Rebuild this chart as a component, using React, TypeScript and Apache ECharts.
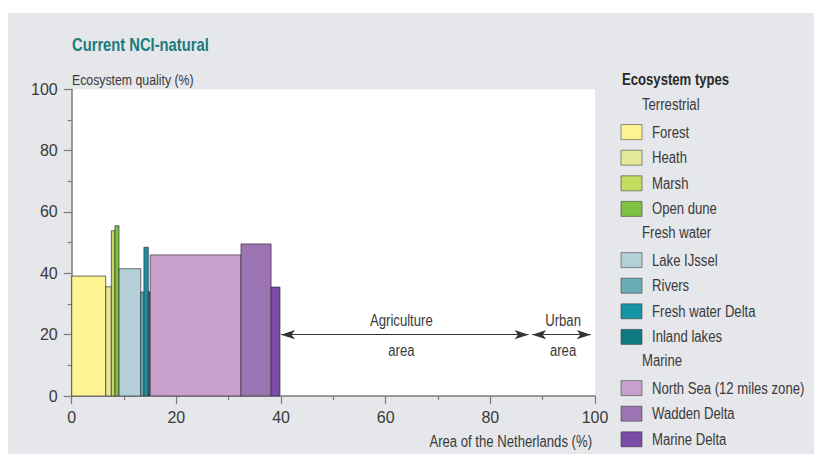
import React, { useEffect, useRef } from "react";
import * as echarts from "echarts";

// ---- Data ----
const ecosystemTypes = [
  "Forest",
  "Heath",
  "Marsh",
  "Open dune",
  "Lake IJssel",
  "Rivers",
  "Fresh water Delta",
  "Inland lakes",
  "North Sea (12 miles zone)",
  "Wadden Delta",
  "Marine Delta",
];
const groupNames = ["Terrestrial", "Fresh water", "Marine"];
const typeGroup = [0, 0, 0, 0, 1, 1, 1, 1, 2, 2, 2];
// share of the area of the Netherlands (%) — bar widths
const areaShare = [6.5, 1.07, 0.7, 0.77, 4.16, 0.6, 0.84, 0.36, 17.35, 5.75, 1.7];
// ecosystem quality (%) — bar heights
const quality = [39.1, 35.6, 53.9, 55.5, 41.5, 33.9, 48.5, 34.0, 46.0, 49.6, 35.5];
const typeColors = [
  "#fdf391",
  "#e3ea97",
  "#c3dc60",
  "#7fc243",
  "#b3d0d9",
  "#6aabb8",
  "#1693a4",
  "#0f7b82",
  "#c8a0cc",
  "#9c73b3",
  "#7a4ba7",
];

// land-use annotations
const landUse = ["Agriculture", "Urban"];
const landUseStart = [40, 88.0];
const landUseEnd = [87.3, 99.2];
const landUseLevel = 20;
const landUseLabelX = [63, 93.9];
const landUseTopY = 24.5;
const landUseBottomY = 14.7;
const landUseSub = "area";

const xTickValues = [0, 20, 40, 60, 80, 100];
const yTickValues = [0, 20, 40, 60, 80, 100];

const TITLE = "Current NCI-natural";
const Y_NAME = "Ecosystem quality (%)";
const X_NAME = "Area of the Netherlands (%)";
const LEGEND_TITLE = "Ecosystem types";

const FONT = "'Liberation Sans', Arial, Helvetica, sans-serif";
const NARROW = 0.82;
const TEXT = "#3a3a3a";

export default function App() {
  const ref = useRef<HTMLDivElement>(null);

  useEffect(() => {
    if (!ref.current) return;
    const chart = echarts.init(ref.current, undefined, { renderer: "svg" });

    // bar table built from the arrays
    let acc = 0;
    const barData = areaShare.map((w, i) => {
      const start = acc;
      acc += w;
      return { value: [start, acc, quality[i], i], name: ecosystemTypes[i] };
    });

    const narrowText = (x: number, y: number, text: string, font: string, fill: string, align = "left") => ({
      type: "text",
      x,
      y,
      scaleX: NARROW,
      style: { text, fill, font, verticalAlign: "middle", align },
    });

    // legend rows
    const legendEls: any[] = [];
    const rowY0 = 106.5;
    const rowStep = 25.6;
    let row = 0;
    let lastGroup = -1;
    ecosystemTypes.forEach((t, i) => {
      if (typeGroup[i] !== lastGroup) {
        lastGroup = typeGroup[i];
        legendEls.push(narrowText(642, rowY0 + rowStep * row - 2, groupNames[lastGroup], `16px ${FONT}`, TEXT));
        row++;
      }
      const cy = rowY0 + rowStep * row;
      legendEls.push({
        type: "rect",
        shape: { x: 621, y: cy - 7.5, width: 21, height: 15 },
        style: { fill: typeColors[i], stroke: "rgba(60,55,50,0.55)", lineWidth: 1 },
      });
      legendEls.push(narrowText(652, cy, t, `16px ${FONT}`, TEXT));
      row++;
    });

    const labelPoints: any[] = [];
    const labelTexts: string[] = [];
    landUse.forEach((n, i) => {
      labelPoints.push([landUseLabelX[i], landUseTopY, labelTexts.length]);
      labelTexts.push(n);
      labelPoints.push([landUseLabelX[i], landUseBottomY, labelTexts.length]);
      labelTexts.push(landUseSub);
    });

    const axisCommon = {
      type: "value",
      min: 0,
      max: 100,
      interval: 20,
      axisLine: { show: true, lineStyle: { color: "#7a7a7a", width: 1.5 } },
      axisTick: { show: true, length: 8, lineStyle: { color: "#7a7a7a", width: 1.2 } },
      minorTick: { show: true, splitNumber: 2, length: 4, lineStyle: { color: "#7a7a7a", width: 1.2 } },
      splitLine: { show: false },
      minorSplitLine: { show: false },
    };

    chart.setOption({
      animation: false,
      backgroundColor: "#ffffff",
      grid: {
        left: 71.7,
        right: 219,
        top: 89.3,
        bottom: 68,
        show: true,
        backgroundColor: "#ffffff",
        borderWidth: 0,
        containLabel: false,
      },
      xAxis: {
        ...axisCommon,
        axisLabel: {
          color: TEXT,
          fontSize: 16,
          fontFamily: FONT,
          margin: 13,
          formatter: (v: number) => (xTickValues.includes(v) ? String(v) : ""),
        },
      },
      yAxis: {
        ...axisCommon,
        axisLabel: {
          color: TEXT,
          fontSize: 16,
          fontFamily: FONT,
          margin: 14,
          formatter: (v: number) => (yTickValues.includes(v) ? String(v) : ""),
        },
      },
      graphic: [
        {
          type: "rect",
          z: -10,
          silent: true,
          shape: { x: 8, y: 13, width: 806, height: 441 },
          style: { fill: "#e5e7ea" },
        },
        narrowText(72, 44, TITLE, `bold 18px ${FONT}`, "#1b7b7d"),
        narrowText(72, 80, Y_NAME, `15px ${FONT}`, TEXT),
        narrowText(592, 441.5, X_NAME, `16px ${FONT}`, TEXT, "right"),
        narrowText(622, 80, LEGEND_TITLE, `bold 16px ${FONT}`, "#2a2a2a"),
        ...legendEls,
      ],
      series: [
        {
          type: "custom",
          data: barData,
          encode: { x: [0, 1], y: 2 },
          renderItem: (params: any, api: any) => {
            const x0 = api.value(0);
            const x1 = api.value(1);
            const v = api.value(2);
            const idx = api.value(3);
            const p0 = api.coord([x0, v]);
            const p1 = api.coord([x1, 0]);
            return {
              type: "rect",
              shape: { x: p0[0], y: p0[1], width: p1[0] - p0[0], height: p1[1] - p0[1] },
              style: { fill: typeColors[idx], stroke: "rgba(55,45,55,0.7)", lineWidth: 1 },
            };
          },
        },
        {
          type: "custom",
          data: labelPoints,
          encode: { x: 0, y: 1 },
          silent: true,
          renderItem: (params: any, api: any) => {
            const p = api.coord([api.value(0), api.value(1)]);
            return {
              type: "text",
              x: p[0],
              y: p[1],
              scaleX: NARROW,
              style: {
                text: labelTexts[api.value(2)],
                fill: TEXT,
                font: `16px ${FONT}`,
                align: "center",
                verticalAlign: "middle",
              },
            };
          },
        },
        {
          type: "scatter",
          data: labelPoints.map((p) => [p[0], p[1]]),
          symbolSize: 0,
          silent: true,
          markLine: {
            silent: true,
            symbol: ["arrow", "arrow"],
            symbolSize: [7, 14],
            label: { show: false },
            lineStyle: { color: "#333", width: 1.2, type: "solid" },
            data: landUse.map((_, i) => [
              { coord: [landUseStart[i], landUseLevel] },
              { coord: [landUseEnd[i], landUseLevel] },
            ]),
          },
        },
      ],
    });

    return () => chart.dispose();
  }, []);

  return (
    <div
      ref={ref}
      style={{ position: "fixed", left: 0, top: 0, width: 814, height: 464, background: "#fff" }}
    />
  );
}
